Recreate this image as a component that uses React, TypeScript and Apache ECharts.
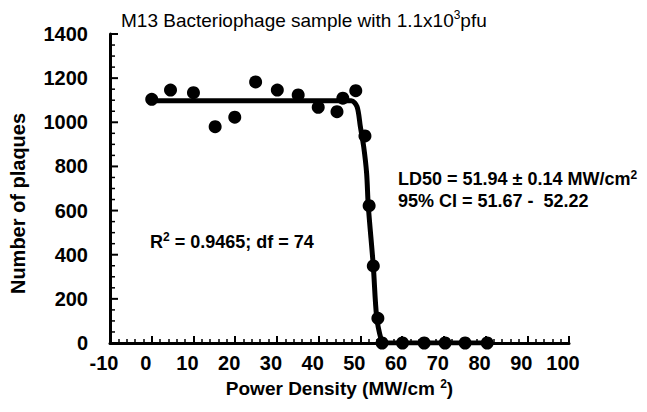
import React, { useEffect, useRef } from "react";
import * as echarts from "echarts";

const powerDensity = [0, 4.5, 10, 15.2, 19.9, 24.9, 30.1, 35.1, 39.9, 44.4, 45.8, 48.9, 51.1, 52.1, 53.1, 54.2, 55.2, 60.1, 65.3, 70.3, 75.1, 80.4];
const plaques = [1104, 1146, 1134, 980, 1023, 1183, 1146, 1124, 1068, 1048, 1109, 1143, 938, 622, 349, 112, 0, 0, 0, 0, 0, 0];

const fitX = [0, 47.8, 49.2, 50.0, 50.8, 51.5, 51.9, 53.1, 53.9, 55.0, 55.6, 81.3];
const fitY = [1098, 1098, 1071, 980, 889, 769, 621, 349, 119, 14, 0, 0];

const xTicks = { min: -10, max: 100, interval: 10 };
const yTicks = { min: 0, max: 1400, interval: 200 };
const yMinorStep = 50;

const FONT = "Liberation Sans, Arial, sans-serif";

export default function App() {
  const ref = useRef<HTMLDivElement>(null);
  useEffect(() => {
    if (!ref.current) return;
    const chart = echarts.init(ref.current, undefined, { renderer: "svg" });
    const labelStyle = { color: "#000", fontFamily: FONT, fontWeight: "bold" as const, fontSize: 20 };
    const yTickValues: number[] = [];
    for (let v = yTicks.min; v <= yTicks.max; v += yMinorStep) yTickValues.push(v);
    chart.setOption({
      animation: false,
      backgroundColor: "#fff",
      grid: { left: 105, right: 78, top: 34, bottom: 69, containLabel: false },
      title: {
        text: "M13 Bacteriophage sample with 1.1x10{sup|3}pfu",
        left: 116,
        top: 4,
        textStyle: {
          color: "#000",
          fontFamily: FONT,
          fontWeight: "normal",
          fontSize: 19,
          rich: { sup: { fontSize: 12, verticalAlign: "top", padding: [0, 0, 10, 0], color: "#000", fontFamily: FONT } },
        },
      },
      xAxis: {
        type: "value",
        ...xTicks,
        axisLine: { show: true, onZero: false, lineStyle: { color: "#000", width: 3 } },
        axisTick: { show: true, inside: false, length: -7, lineStyle: { color: "#000", width: 2 } },
        minorTick: { show: true, splitNumber: 5, length: -4, lineStyle: { color: "#000", width: 1.5 } },
        splitLine: { show: false },
        axisLabel: {
          ...labelStyle,
          margin: 10,
          formatter: (v: number) => `{v|${v}}{g| }`,
          rich: { v: { ...labelStyle }, g: { ...labelStyle, width: 12 } },
        },
        name: "Power Density (MW/cm {s|2})",
        nameLocation: "middle",
        nameGap: 33,
        nameTextStyle: {
          color: "#000",
          fontFamily: FONT,
          fontWeight: "bold",
          fontSize: 19,
          rich: { s: { fontSize: 12, fontWeight: "bold", fontFamily: FONT, color: "#000", padding: [0, 0, 10, 0] } },
        },
      },
      yAxis: {
        type: "value",
        ...yTicks,
        axisLine: { show: true, onZero: false, lineStyle: { color: "#000", width: 3 } },
        axisTick: { show: false },
        splitLine: { show: false },
        axisLabel: { ...labelStyle, margin: 22, formatter: (v: number) => String(v) },
        name: "Number of plaques",
        nameLocation: "middle",
        nameRotate: 90,
        nameGap: 82,
        nameTextStyle: { color: "#000", fontFamily: FONT, fontWeight: "bold", fontSize: 20, padding: [0, 30, 0, 0] },
      },
      series: [
        {
          type: "custom",
          data: yTickValues.map((v) => [xTicks.min, v]),
          clip: false,
          silent: true,
          z: 1,
          renderItem: (params: any, api: any) => {
            const v = api.value(1);
            const p = api.coord([xTicks.min, v]);
            const major = v % yTicks.interval === 0;
            return {
              type: "line",
              shape: { x1: p[0], y1: p[1], x2: p[0] + (major ? 8 : 5), y2: p[1] },
              style: { stroke: "#000", lineWidth: major ? 2 : 1.5 },
            };
          },
        },
        {
          type: "line",
          data: fitX.map((x, i) => [x, fitY[i]]),
          showSymbol: false,
          smooth: 0.3,
          lineStyle: { color: "#000", width: 5 },
          z: 2,
        },
        {
          type: "scatter",
          data: powerDensity.map((x, i) => [x, plaques[i]]),
          symbol: "circle",
          symbolSize: 13,
          itemStyle: { color: "#000", opacity: 1 },
          z: 3,
        },
      ],
      graphic: [
        {
          type: "text",
          left: 150,
          top: 231,
          style: {
            text: "R{s|2} = 0.9465; df = 74",
            fill: "#000",
            font: `bold 18px ${FONT}`,
            rich: { s: { fontSize: 12, fontWeight: "bold", fontFamily: FONT, padding: [0, 0, 9, 0] } },
          },
        },
        {
          type: "text",
          left: 398,
          top: 168,
          style: {
            text: "LD50 = 51.94 ± 0.14 MW/cm{s|2}\n95% CI = 51.67 -  52.22",
            fill: "#000",
            font: `bold 18px ${FONT}`,
            lineHeight: 22,
            rich: { s: { fontSize: 12, fontWeight: "bold", fontFamily: FONT, padding: [0, 0, 9, 0] } },
          },
        },
      ],
    });
    return () => chart.dispose();
  }, []);
  return <div ref={ref} style={{ position: "fixed", left: 0, top: 0, width: 647, height: 412 }} />;
}
